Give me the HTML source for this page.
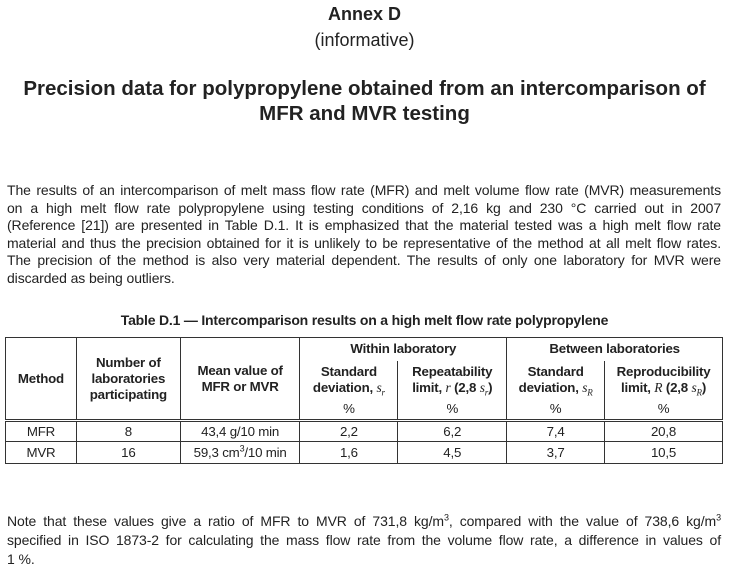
<!DOCTYPE html>
<html><head><meta charset="utf-8"><style>
body{margin:0;width:729px;height:568px;background:#fff;font-family:"Liberation Sans",sans-serif;color:#222;position:relative;overflow:hidden}
.c{position:absolute;left:0;width:729px;text-align:center}
.l{position:absolute;left:7px;width:714px;font-size:14px;letter-spacing:-0.1px;text-align:justify;text-align-last:justify;white-space:nowrap;line-height:16px}
.l.e{text-align-last:left}
sup,sub{line-height:0;font-size:9px}
table{position:absolute;left:5px;top:337px;width:718px;border-collapse:collapse;font-size:13.3px;letter-spacing:-0.2px;text-align:center}
td{border:1px solid #333;padding:0;line-height:16px}
i{font-family:"Liberation Serif",serif;font-size:13.5px;font-weight:normal}
</style></head><body>
<div class="c" style="top:4px;font-size:18px;font-weight:bold">Annex D</div>
<div class="c" style="top:30px;font-size:18px">(informative)</div>
<div class="c" style="top:76px;font-size:20.5px;font-weight:bold;line-height:25px">Precision data for polypropylene obtained from an intercomparison of<br>MFR and MVR testing</div>
<div class="l" style="top:182px">The results of an intercomparison of melt mass flow rate (MFR) and melt volume flow rate (MVR) measurements</div>
<div class="l" style="top:199.5px">on a high melt flow rate polypropylene using testing conditions of 2,16 kg and 230 °C carried out in 2007</div>
<div class="l" style="top:217px">(Reference [21]) are presented in Table D.1. It is emphasized that the material tested was a high melt flow rate</div>
<div class="l" style="top:234.5px">material and thus the precision obtained for it is unlikely to be representative of the method at all melt flow rates.</div>
<div class="l" style="top:252px">The precision of the method is also very material dependent. The results of only one laboratory for MVR were</div>
<div class="l e" style="top:269.5px">discarded as being outliers.</div>
<div class="c" style="top:312px;font-size:14px;font-weight:bold;letter-spacing:-0.2px">Table D.1 — Intercomparison results on a high melt flow rate polypropylene</div>
<table>
<colgroup><col style="width:71px"><col style="width:104px"><col style="width:120px"><col style="width:98px"><col style="width:109px"><col style="width:98px"><col style="width:118px"></colgroup>
<tr style="height:23px;font-weight:bold"><td rowspan="3">Method</td><td rowspan="3">Number of<br>laboratories<br>participating</td><td rowspan="3">Mean value of<br>MFR or MVR</td><td colspan="2" style="border-bottom:none">Within laboratory</td><td colspan="2" style="border-bottom:none">Between laboratories</td></tr>
<tr style="height:38px;font-weight:bold"><td style="border-bottom:none;border-top:none">Standard<br>deviation, <i>s<sub>r</sub></i></td><td style="border-bottom:none;border-top:none">Repeatability<br>limit, <i>r</i> (2,8 <i>s<sub>r</sub></i>)</td><td style="border-bottom:none;border-top:none">Standard<br>deviation, <i>s<sub>R</sub></i></td><td style="border-bottom:none;border-top:none">Reproducibility<br>limit, <i>R</i> (2,8 <i>s<sub>R</sub></i>)</td></tr>
<tr style="height:22px;border-bottom:3px double #333"><td style="border-top:none">%</td><td style="border-top:none">%</td><td style="border-top:none">%</td><td style="border-top:none">%</td></tr>
<tr style="height:21px"><td>MFR</td><td>8</td><td>43,4 g/10 min</td><td>2,2</td><td>6,2</td><td>7,4</td><td>20,8</td></tr>
<tr style="height:22px"><td>MVR</td><td>16</td><td>59,3 cm<sup>3</sup>/10 min</td><td>1,6</td><td>4,5</td><td>3,7</td><td>10,5</td></tr>
</table>
<div class="l" style="top:513px">Note that these values give a ratio of MFR to MVR of 731,8 kg/m<sup>3</sup>, compared with the value of 738,6 kg/m<sup>3</sup></div>
<div class="l" style="top:532px">specified in ISO 1873-2 for calculating the mass flow rate from the volume flow rate, a difference in values of</div>
<div class="l e" style="top:551px">1 %.</div>
</body></html>
